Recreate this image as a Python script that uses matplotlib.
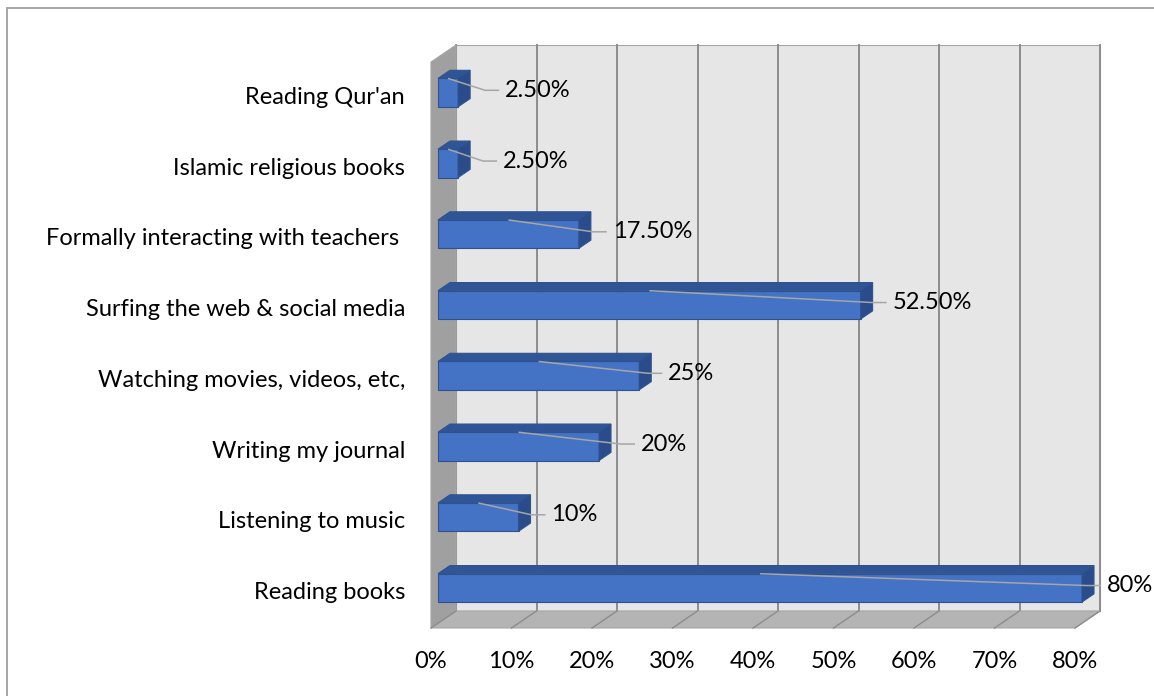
import matplotlib
matplotlib.use('Agg')
import matplotlib.pyplot as plt
from matplotlib.patches import Polygon, Rectangle

# data (bottom to top, as drawn)
categories = ['Reading books', 'Listening to music', 'Writing my journal',
              'Watching movies, videos, etc,', 'Surfing the web & social media',
              'Formally interacting with teachers ', 'Islamic religious books',
              "Reading Qur'an"]
values = [80, 10, 20, 25, 52.5, 17.5, 2.5, 2.5]
value_labels = ['80%', '10%', '20%', '25%', '52.50%', '17.50%', '2.50%', '2.50%']
ticks = [0, 10, 20, 30, 40, 50, 60, 70, 80]
tick_labels = ['0%', '10%', '20%', '30%', '40%', '50%', '60%', '70%', '80%']

# style: how far each data label sits from its bar (pixels)
label_gap = [13, 21, 30, 17, 20, 22, 33, 35]

W, H = 1154, 696
fig = plt.figure(figsize=(W / 100, H / 100), dpi=100)
ax = fig.add_axes([0, 0, 1, 1])
ax.axis('off')

# one unit of value = sx px, one category = sy px
sx, sy = 8.05, 70.75
x0_px, y0_px = 431, 628
ax.set_xlim(-x0_px / sx, (W - x0_px) / sx)
ax.set_ylim(-(H - y0_px) / sy, y0_px / sy)
px = 1 / sx
py = 1 / sy

# oblique depth direction (full depth of the box)
DX, DY = 25 * px, 17 * py
n = len(categories)
vmax = ticks[-1]
FONT = dict(fontsize=17, family='Lato', color='black')


def P(v, y, d):
    return (v + d * DX, y + d * DY)


def poly(pts, **kw):
    ax.add_patch(Polygon([P(*p) for p in pts], closed=True, **kw))


wall_edge = '#a6a6a6'
# back wall
poly([(0, 0, 1), (vmax, 0, 1), (vmax, n, 1), (0, n, 1)],
     facecolor='#e6e6e6', edgecolor=wall_edge, lw=0.8, zorder=1)
for t in ticks:
    a, b = P(t, 0, 1), P(t, n, 1)
    ax.plot([a[0], b[0]], [a[1], b[1]], color='#8c8c8c', lw=1.4, zorder=2)
# side wall
poly([(0, 0, 0), (0, n, 0), (0, n, 1), (0, 0, 1)],
     facecolor='#a0a0a0', edgecolor=wall_edge, lw=0.8, zorder=3)
# floor
poly([(0, 0, 0), (vmax, 0, 0), (vmax, 0, 1), (0, 0, 1)],
     facecolor='#b4b4b4', edgecolor=wall_edge, lw=0.8, zorder=3)
for t in ticks:
    a, b = P(t, 0, 0), P(t, 0, 1)
    ax.plot([a[0], b[0]], [a[1], b[1]], color='#8c8c8c', lw=1.0, zorder=4)

# bars
d0, d1 = 0.28, 0.76
half = 0.2
front_c, top_c, side_c, edge_c = '#4472c4', '#2f5597', '#2b4c8a', '#2f528f'
for i, (v, lab) in enumerate(zip(values, value_labels)):
    yb, yt = i + 0.5 - half, i + 0.5 + half
    poly([(0, yb, d0), (v, yb, d0), (v, yt, d0), (0, yt, d0)],
         facecolor=front_c, edgecolor=edge_c, lw=0.8, zorder=5)
    poly([(0, yt, d0), (v, yt, d0), (v, yt, d1), (0, yt, d1)],
         facecolor=top_c, edgecolor=edge_c, lw=0.8, zorder=5)
    poly([(v, yb, d0), (v, yt, d0), (v, yt, d1), (v, yb, d1)],
         facecolor=side_c, edgecolor=edge_c, lw=0.8, zorder=5)

    # data label with leader line
    end_x = P(v, 0, d1)[0]
    lx = end_x + label_gap[i] * px
    ly = i + 0.6
    sx0, sy0 = P(v / 2, yt, d0)
    knee = lx - 6 * px - 14 * px
    ax.plot([sx0, knee, lx - 6 * px], [sy0, ly, ly], color='#a6a6a6',
            lw=1.1, zorder=6, solid_capstyle='butt')
    ax.text(lx, ly, lab, ha='left', va='center', zorder=7, **FONT)

# category labels
for i, c in enumerate(categories):
    ax.text(-26 * px, i + 0.5, c, ha='right', va='center', **FONT)

# value axis labels
for t, tl in zip(ticks, tick_labels):
    ax.text(t, -34 * py, tl, ha='center', va='center', **FONT)

# chart border
fig.patches.append(Rectangle((6.5 / W, -0.01), (W - 6) / W, (H - 8) / H + 0.01,
                             transform=fig.transFigure, fill=False,
                             edgecolor='#a6a6a6', lw=1.4))

fig.savefig('out.png', dpi=100)
